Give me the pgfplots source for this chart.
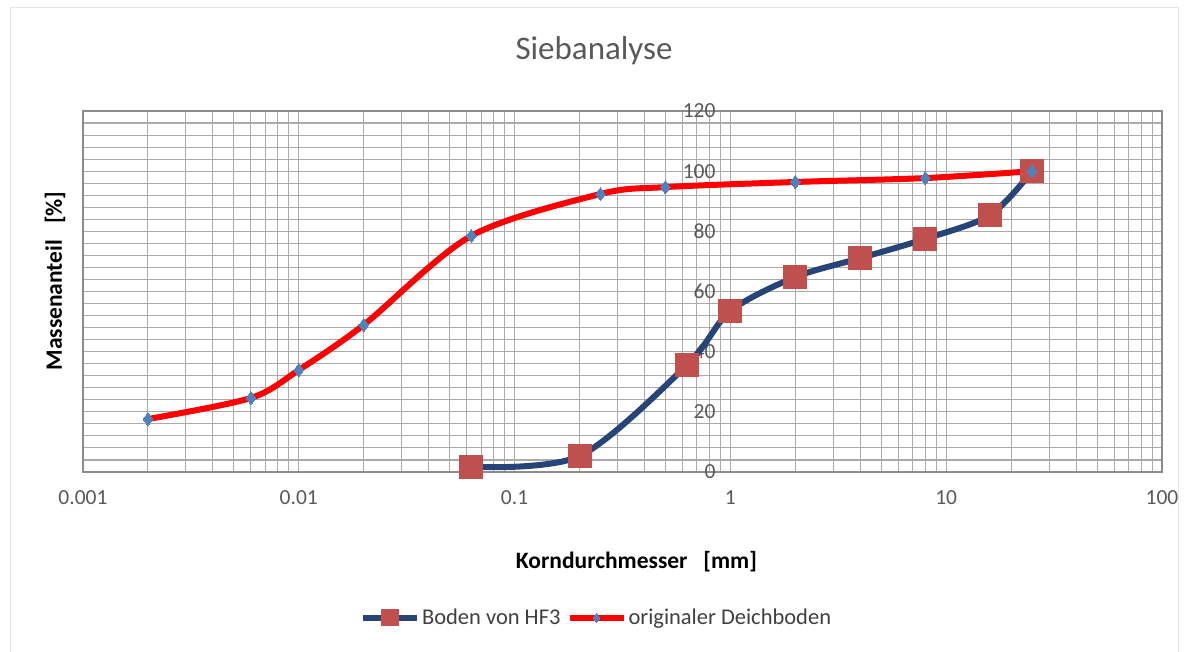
\documentclass[border=0pt]{standalone}
\usepackage{fontspec}
\setmainfont{Carlito}
\usepackage{pgfplots}
\pgfplotsset{compat=1.18}
\definecolor{hfblue}{RGB}{38,68,120}
\definecolor{hfsq}{RGB}{192,80,77}
\definecolor{dbred}{RGB}{255,0,0}
\definecolor{dbdia}{RGB}{79,129,189}
\definecolor{gridgray}{RGB}{170,170,170}
\definecolor{framegray}{RGB}{140,140,140}
\definecolor{ticktext}{RGB}{89,89,89}
\definecolor{legtext}{RGB}{64,64,64}
\begin{document}
\begin{tikzpicture}[x=1pt,y=1pt]
\useasboundingbox (0,0) rectangle (1188,652);
\draw[gray!20, line width=1pt] (10,0) -- (10,644) -- (1178,644) -- (1178,0);
% vertical grid lines of the two upper decades, placed by their log position
\foreach \d in {3,4}{
  \foreach \m in {0.30103,0.47712,0.60206,0.69897,0.77815,0.84510,0.90309,0.95424}{
    \pgfmathsetmacro\gx{83+1079*(\d+\m)/5}
    \draw[gridgray, line width=1.1pt] (\gx,180) -- (\gx,541);
  }
}
\begin{axis}[
  at={(83pt,180pt)}, anchor=south west,
  scale only axis, width=1079pt, height=361pt,
  xmode=log, log basis x=10,
  xmin=0.001, xmax=100, ymin=0, ymax=120,
  xtick={0.001,0.01,0.1,1,10,100},
  xticklabels={0.001,0.01,0.1,1,10,100},
  minor xtick={0.002,0.003,0.004,0.005,0.006,0.007,0.008,0.009,
    0.02,0.03,0.04,0.05,0.06,0.07,0.08,0.09,
    0.2,0.3,0.4,0.5,0.6,0.7,0.8,0.9},
  ytick={0,20,...,120},
  minor ytick={4,8,...,116},
  grid=both,
  major grid style={draw=gridgray, line width=1.1pt},
  minor grid style={draw=gridgray, line width=1.1pt},
  axis line style={draw=framegray, line width=1.2pt},
  tick style={draw=none},
  /pgf/number format/assume math mode=true,
  ticklabel style={font=\fontsize{21.5}{24}\selectfont, text=ticktext},
  xticklabel style={yshift=-15pt},
  yticklabel style={anchor=east, xshift=636pt},
  title={Siebanalyse},
  title style={at={(0.4736,1.15)}, anchor=center, font=\fontsize{33}{38}\selectfont, text=ticktext},
  xlabel={Korndurchmesser~~~[mm]},
  xlabel style={at={(0.513,-0.247)}, anchor=center, font=\bfseries\fontsize{23.5}{27}\selectfont},
  ylabel={Massenanteil~~~[\%]},
  ylabel style={at={(-0.026,0.529)}, anchor=center, font=\bfseries\fontsize{23.5}{27}\selectfont},
  legend columns=2,
  legend style={at={(0.476,-0.404)}, anchor=center, draw=none, fill=none,
    font=\fontsize{22.5}{26}\selectfont, text=legtext,
    /tikz/every even column/.append style={column sep=4pt}},
  legend image code/.code={
    \draw[#1, mark=none] (0pt,0pt) -- (54pt,0pt);
    \draw[#1, only marks, every mark/.append style={scale=0.7}] plot coordinates {(27pt,0pt)};
  },
]
\addplot[hfblue, line width=6pt, smooth, tension=0.5,
  mark=square*, mark size=11.5pt,
  mark options={fill=hfsq, draw=hfsq, line width=0pt}]
  coordinates {(0.063,1.7) (0.2,5.3) (0.63,35.6) (1,53.5) (2,64.8) (4,71.1) (8,77.5) (16,85.4) (25,100)};
\addlegendentry{Boden von HF3}
\addplot[dbred, line width=6pt, smooth, tension=0.5,
  mark=diamond*, mark size=6.5pt,
  mark options={fill=dbdia, draw=dbdia, line width=0pt}]
  coordinates {(0.002,17.6) (0.006,24.6) (0.01,33.9) (0.02,48.9) (0.063,78.5) (0.25,92.4) (0.5,94.7) (2,96.4) (8,97.7) (25,100)};
\addlegendentry{originaler Deichboden}
\end{axis}
\end{tikzpicture}
\end{document}
